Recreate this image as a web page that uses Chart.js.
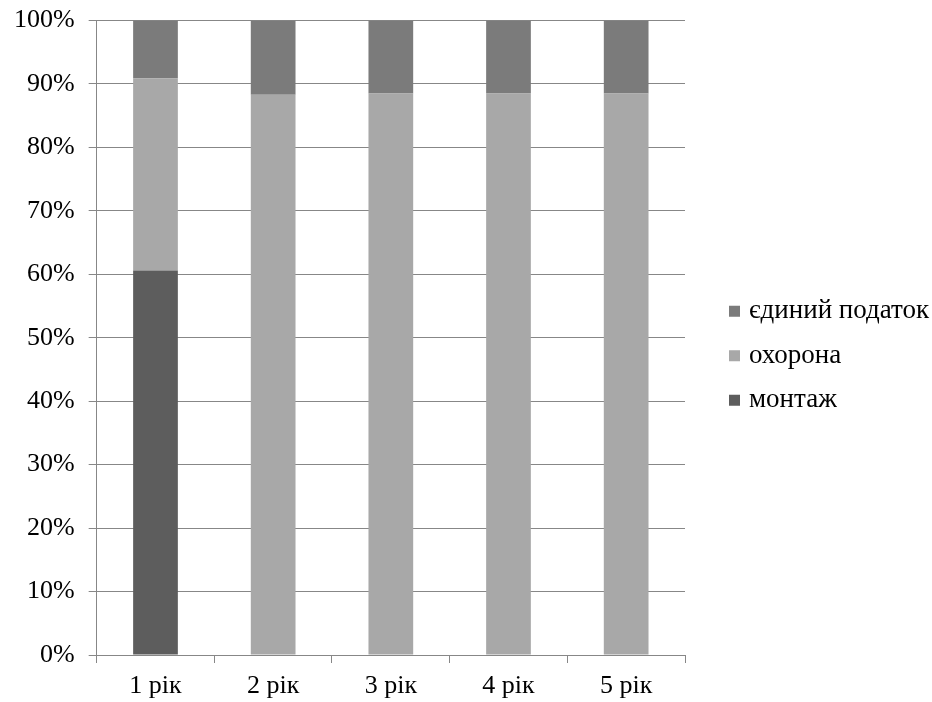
<!DOCTYPE html>
<html lang="uk">
<head>
    <meta charset="UTF-8">
    <title>Структура витрат</title>
    <script src="https://cdn.jsdelivr.net/npm/chart.js"></script>
    <style>
        html, body {
            margin: 0;
            padding: 0;
            background: #fff;
        }
        .wrap {
            width: 932px;
            height: 702px;
        }
    </style>
</head>
<body>
    <div class="wrap">
        <canvas id="costChart" width="932" height="702"></canvas>
    </div>

    <script>
        // категорії та частки (%)
        const years = ['1 рік', '2 рік', '3 рік', '4 рік', '5 рік'];
        const montazh = [60.6, 0, 0, 0, 0];
        const okhorona = [30.3, 88.3, 88.5, 88.5, 88.5];
        const podatok = [9.1, 11.7, 11.5, 11.5, 11.5];
        const yTicks = [0, 10, 20, 30, 40, 50, 60, 70, 80, 90, 100];

        const gridColor = '#878787';
        const fontFamily = "'Liberation Serif', 'Times New Roman', serif";

        // легенда праворуч, у зворотному порядку, як в Excel
        const sideLegend = {
            id: 'sideLegend',
            afterDraw(chart) {
                const ctx = chart.ctx;
                const area = chart.chartArea;
                const items = chart.data.datasets.slice().reverse();
                const step = 44.5;
                const box = 11;
                const x = area.right + 44;
                const y0 = (area.top + area.bottom) / 2 + 18 - step * (items.length - 1) / 2;
                ctx.save();
                ctx.font = '27px ' + fontFamily;
                ctx.textBaseline = 'middle';
                items.forEach((ds, i) => {
                    const y = y0 + i * step;
                    ctx.fillStyle = ds.backgroundColor;
                    ctx.fillRect(x, y - box / 2, box, box);
                    ctx.fillStyle = '#000';
                    ctx.fillText(ds.label, x + box + 9, y);
                });
                ctx.restore();
            }
        };

        new Chart(document.getElementById('costChart'), {
            type: 'bar',
            data: {
                labels: years,
                datasets: [
                    { label: 'монтаж', data: montazh, backgroundColor: '#5d5d5d' },
                    { label: 'охорона', data: okhorona, backgroundColor: '#a8a8a8' },
                    { label: 'єдиний податок', data: podatok, backgroundColor: '#7b7b7b' }
                ]
            },
            options: {
                responsive: false,
                animation: false,
                layout: {
                    padding: { left: 0, right: 247, top: 0, bottom: 0 }
                },
                datasets: {
                    bar: {
                        barPercentage: 0.38,
                        categoryPercentage: 1,
                        borderWidth: 0
                    }
                },
                plugins: {
                    legend: { display: false },
                    tooltip: { enabled: false }
                },
                scales: {
                    x: {
                        stacked: true,
                        afterFit(scale) {
                            scale.height = 47;
                        },
                        grid: {
                            drawOnChartArea: false,
                            tickLength: 8,
                            color: gridColor
                        },
                        border: { color: gridColor },
                        ticks: {
                            color: '#000',
                            padding: 15,
                            font: { family: fontFamily, size: 26, lineHeight: 0.6 }
                        }
                    },
                    y: {
                        stacked: true,
                        min: 0,
                        max: 100,
                        afterBuildTicks(scale) {
                            scale.ticks = yTicks.map(v => ({ value: v }));
                        },
                        grid: {
                            color: gridColor,
                            tickLength: 8
                        },
                        border: { color: gridColor },
                        ticks: {
                            color: '#000',
                            padding: 14,
                            font: { family: fontFamily, size: 26, lineHeight: 0.5 },
                            callback: v => v + '%'
                        }
                    }
                }
            },
            plugins: [sideLegend]
        });
    </script>
</body>
</html>
